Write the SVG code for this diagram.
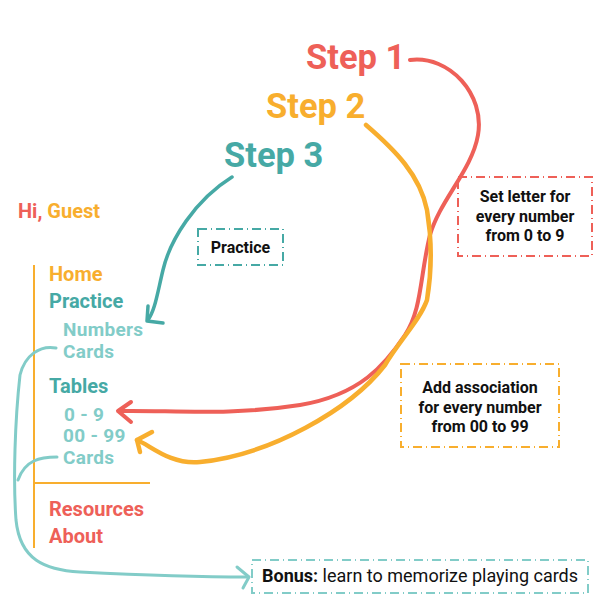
<svg xmlns="http://www.w3.org/2000/svg" width="600" height="600" viewBox="0 0 600 600">
<style>
text{font-family:Roboto,"Liberation Sans",sans-serif;font-weight:700}
.step{font-size:34.5px}
.menu{font-size:20px}
.sub{font-size:19px;letter-spacing:0.3px}
.box{font-size:16px;fill:#111}
.red{fill:#EE6058}.org{fill:#F8AE2E}.teal{fill:#46A9A5}.lt{fill:#82CCC8}
.c{fill:none;stroke-linecap:round;stroke-linejoin:round}
.dash{fill:none;stroke-width:2;stroke-dasharray:9 4 1 4}
</style>
<rect width="600" height="600" fill="#fff"/>
<g id="step1"><text class="step red" x="306" y="69">Step 1</text></g>
<g id="step2"><text class="step org" x="266" y="118">Step 2</text></g>
<g id="step3"><text class="step teal" x="224" y="167">Step 3</text></g>
<g id="menu">
<line x1="34" y1="265" x2="34" y2="548" stroke="#F8AE2E" stroke-width="2"/>
<line x1="34" y1="483" x2="150" y2="483" stroke="#F8AE2E" stroke-width="2"/>
<text class="menu" x="18" y="218"><tspan class="red">Hi, </tspan><tspan class="org">Guest</tspan></text>
<text class="menu org" x="49" y="281">Home</text>
<text class="menu teal" x="49" y="308">Practice</text>
<text class="sub lt" x="63" y="336">Numbers</text>
<text class="sub lt" x="63" y="358">Cards</text>
<text class="menu teal" x="49" y="393">Tables</text>
<text class="sub lt" x="64" y="421">0 - 9</text>
<text class="sub lt" x="63" y="442">00 - 99</text>
<text class="sub lt" x="63" y="464">Cards</text>
<text class="menu red" x="49" y="516">Resources</text>
<text class="menu red" x="49" y="543">About</text>
</g>
<g id="practice-box">
<rect class="dash" x="198" y="229" width="85" height="36" stroke="#46A9A5"/>
<text class="box" x="240.5" y="253" text-anchor="middle">Practice</text>
</g>
<g id="step1-box">
<rect class="dash" x="458" y="177" width="134" height="79" stroke="#EE6058"/>
<text class="box" x="525" y="202" text-anchor="middle">Set letter for</text>
<text class="box" x="525" y="222" text-anchor="middle">every number</text>
<text class="box" x="525" y="241" text-anchor="middle">from 0 to 9</text>
</g>
<g id="step2-box">
<rect class="dash" x="401" y="364" width="158" height="83" stroke="#F8AE2E"/>
<text class="box" x="480" y="393" text-anchor="middle">Add association</text>
<text class="box" x="480" y="413" text-anchor="middle">for every number</text>
<text class="box" x="480" y="432" text-anchor="middle">from 00 to 99</text>
</g>
<g id="bonus-box">
<rect class="dash" x="252" y="560" width="336" height="33" stroke="#82CCC8"/>
<text x="262" y="582" style="font-size:18px;fill:#111">Bonus:<tspan style="font-weight:400"> learn to memorize playing cards</tspan></text>
</g>
<g id="connectors">
<path class="c" stroke="#EE6058" stroke-width="4" d="M410,60 C450,55 485,95 478,135 C472,170 440,200 430,235 C420,275 422,310 405,335 C385,365 360,395 300,405 C230,416 170,410 120,411"/>
<path class="c" stroke="#EE6058" stroke-width="4" d="M131,402 L118,411 L131,422"/>
<path class="c" stroke="#F8AE2E" stroke-width="4.5" d="M366,125 C395,150 420,175 427,210 C432,240 432,270 427,300 C420,320 400,340 385,365 C350,410 270,455 200,462 C170,465 150,445 137,440"/>
<path class="c" stroke="#F8AE2E" stroke-width="4.5" d="M152,432 L137,440 L140,452"/>
<path class="c" stroke="#46A9A5" stroke-width="3.5" d="M232,177 C195,200 170,240 163,270 C157,295 155,310 148,320"/>
<path class="c" stroke="#46A9A5" stroke-width="3.5" d="M148,306 L147,321 L163,323"/>
<path class="c" stroke="#82CCC8" stroke-width="3" d="M56,348 C40,345 25,355 20,375 C15,420 13,480 16,520 C20,560 45,570 80,572 C140,575 200,577 248,577"/>
<path class="c" stroke="#82CCC8" stroke-width="3" d="M57,457 C40,457 25,460 18,480"/>
<path class="c" stroke="#82CCC8" stroke-width="3" d="M237,567 L249,577 L243,588"/>
</g>
</svg>
